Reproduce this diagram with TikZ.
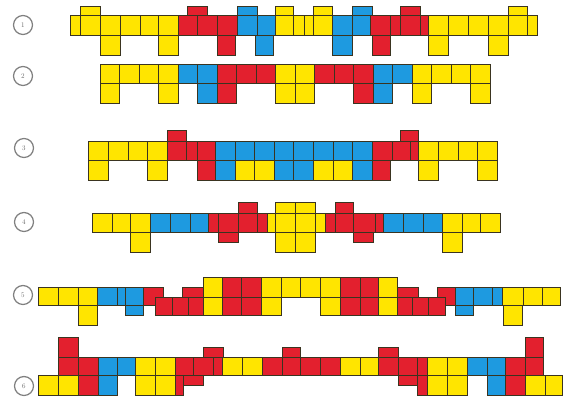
\documentclass[tikz,border=0pt]{standalone}
\usepackage{tikz}
\definecolor{tileyellow}{HTML}{FFE500}
\definecolor{tilered}{HTML}{E3202E}
\definecolor{tileblue}{HTML}{1E9AE0}
\definecolor{tileedge}{HTML}{3A3420}

\begin{document}
\begin{tikzpicture}[x=0.5mm, y=-0.5mm,
    tile/.style={draw=tileedge, line width=1.4pt},
    Y/.style={tile, fill=tileyellow},
    R/.style={tile, fill=tilered},
    B/.style={tile, fill=tileblue},
    num/.style={circle, draw=black!50, line width=1.8pt, minimum size=9.5mm,
        inner sep=0pt, font=\normalsize, text=black!60}]
    \useasboundingbox (0,0) rectangle (568,397);

    \node[num] (n1) at (23,25) {1};
    \node[num] (n2) at (23,76) {2};
    \node[num] (n3) at (24,148) {3};
    \node[num] (n4) at (24,222) {4};
    \node[num] (n5) at (23,295) {5};
    \node[num] (n6) at (24,386) {6};

    \foreach \a/\b/\c in {80/100/Y,187/207/R,237/257/B,275/293/Y,313/332/Y,352/372/B,400/420/R,508/527/Y}
        \draw[\c] (\a,6) rectangle (\b,15);
    \foreach \a/\b/\c in {100/120/Y,158/178/Y,217/235/R,255/273/B,332/352/B,372/390/R,428/448/Y,488/508/Y}
        \draw[\c] (\a,35) rectangle (\b,55);
    \foreach \a/\b/\c in {70/80/Y,80/100/Y,100/120/Y,120/140/Y,140/158/Y,158/178/Y,178/197/R,197/217/R,217/237/R,
            237/257/B,257/275/B,275/293/Y,293/304/Y,304/313/Y,313/332/Y,332/352/B,352/370/B,370/390/R,390/400/R,
            400/420/R,420/428/R,428/448/Y,448/468/Y,468/488/Y,488/508/Y,508/527/Y,527/537/Y}
        \draw[\c] (\a,15) rectangle (\b,35);

    \foreach \k/\c in {0/Y,1/Y,2/Y,3/Y,4/B,5/B,6/R,7/R,8/R,9/Y,10/Y,11/R,12/R,13/R,14/B,15/B,16/Y,17/Y,18/Y,19/Y}
        \draw[\c] ({100+19.5*\k},64) rectangle ++(19.5,19);
    \foreach \k/\c in {0/Y,3/Y,5/B,6/R,9/Y,10/Y,13/R,14/B,16/Y,19/Y}
        \draw[\c] ({100+19.5*\k},83) rectangle ++(19.5,20);

    \foreach \a/\b/\c in {167/186/R,400/418/R}
        \draw[\c] (\a,130) rectangle (\b,141);
    \foreach \a/\b/\c in {88/108/Y,147/167/Y,197/215/R,215/235/B,235/254/Y,254/274/Y,274/293/B,293/313/B,
            313/333/Y,333/352/Y,352/372/B,372/390/R,418/438/Y,477/497/Y}
        \draw[\c] (\a,160) rectangle (\b,180);
    \foreach \a/\b/\c in {88/108/Y,108/128/Y,128/147/Y,147/167/Y,167/186/R,186/197/R,197/215/R,215/235/B,
            235/254/B,254/274/B,274/293/B,293/313/B,313/333/B,333/352/B,352/372/B,372/392/R,392/410/R,
            410/418/R,418/438/Y,438/458/Y,458/477/Y,477/497/Y}
        \draw[\c] (\a,141) rectangle (\b,160);

    \foreach \a/\b/\c in {238/257/R,275/295/Y,295/315/Y,335/353/R}
        \draw[\c] (\a,202) rectangle (\b,213);
    \foreach \a/\b/\c in {130/150/Y,275/295/Y,295/315/Y,442/462/Y}
        \draw[\c] (\a,232) rectangle (\b,252);
    \foreach \a/\b/\c in {218/238/R,353/373/R}
        \draw[\c] (\a,232) rectangle (\b,242);
    \foreach \a/\b/\c in {92/112/Y,112/130/Y,130/150/Y,150/170/B,170/190/B,190/208/B,208/218/R,218/238/R,
            238/257/R,257/267/R,267/275/Y,275/295/Y,295/315/Y,315/325/Y,325/335/R,335/353/R,353/375/R,
            375/383/R,383/403/B,403/423/B,423/442/B,442/462/Y,462/480/Y,480/500/Y}
        \draw[\c] (\a,213) rectangle (\b,232);

    \foreach \a/\b/\c in {78/97/Y,503/522/Y}
        \draw[\c] (\a,305) rectangle (\b,325);
    \foreach \a/\b/\c in {125/143/B,455/473/B}
        \draw[\c] (\a,305) rectangle (\b,315);
    \foreach \a/\b/\c in {38/58/Y,58/78/Y,78/97/Y,97/117/B,117/125/B,125/143/B,143/163/R,182/203/R,
            397/418/R,437/455/R,455/473/B,473/492/B,492/502/B,502/523/Y,523/542/Y,542/560/Y}
        \draw[\c] (\a,287) rectangle (\b,305);
    \foreach \a/\b/\c in {155/172/R,172/188/R,188/203/R,397/412/R,412/428/R,428/445/R}
        \draw[\c] (\a,297) rectangle (\b,315);
    \foreach \a/\b/\c in {203/222/Y,222/241/R,241/261/R,261/281/Y,281/300/Y,300/320/Y,320/340/Y,
            340/360/R,360/378/R,378/397/Y}
        \draw[\c] (\a,277) rectangle (\b,297);
    \foreach \a/\b/\c in {203/222/Y,222/241/R,241/261/R,261/281/Y,320/340/Y,340/360/R,360/378/R,378/397/Y}
        \draw[\c] (\a,297) rectangle (\b,315);

    \foreach \a/\b/\c in {58/78/R,525/543/R}
        \draw[\c] (\a,337) rectangle (\b,357);
    \foreach \a/\b/\c in {203/223/R,282/300/R,378/398/R}
        \draw[\c] (\a,347) rectangle (\b,357);
    \foreach \a/\b/\c in {38/58/Y,58/78/Y,78/98/R,98/117/B,135/155/Y,155/175/Y,175/183/R,417/427/R,
            427/447/Y,447/467/Y,487/505/B,505/525/R,525/545/Y,545/562/Y}
        \draw[\c] (\a,375) rectangle (\b,395);
    \foreach \a/\b/\c in {183/203/R,398/417/R}
        \draw[\c] (\a,375) rectangle (\b,385);
    \foreach \a/\b/\c in {58/78/R,78/98/R,98/117/B,117/135/B,135/155/Y,155/175/Y,175/193/R,193/213/R,
            213/222/R,222/242/Y,242/262/Y,262/282/R,282/300/R,300/320/R,320/340/R,340/360/Y,360/378/Y,
            378/398/R,398/417/R,417/427/R,427/447/Y,447/467/Y,467/487/B,487/505/B,505/525/R,525/543/R}
        \draw[\c] (\a,357) rectangle (\b,375);
\end{tikzpicture}
\end{document}
